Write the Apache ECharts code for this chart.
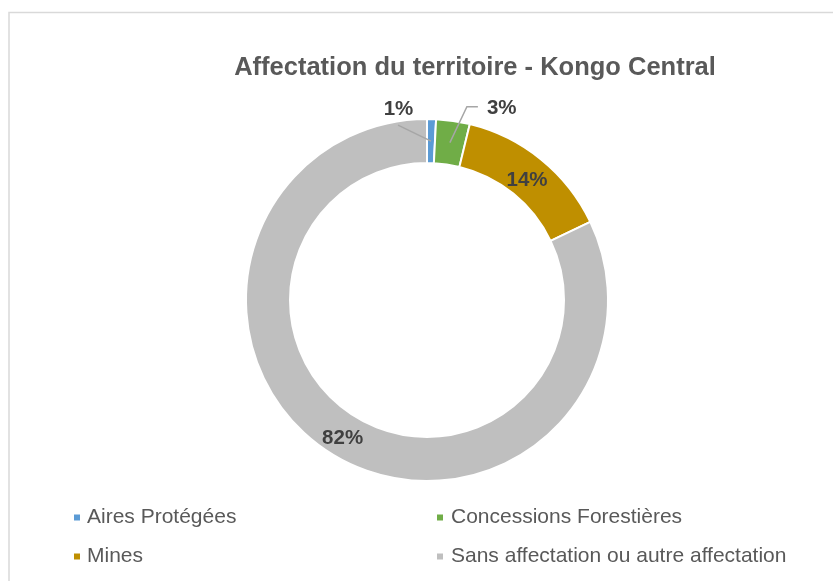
<!DOCTYPE html>
<html>
<head>
<meta charset="utf-8">
<script src="https://cdn.jsdelivr.net/npm/echarts@6/dist/echarts.min.js"></script>
<style>html,body{margin:0;padding:0;background:#fff}#c{width:833px;height:581px}</style>
</head>
<body>
<div id="c"></div>
<script>
const categories = ['Aires Protégées', 'Concessions Forestières', 'Mines', 'Sans affectation ou autre affectation'];
const values = [0.8, 3.0, 14.1, 82.1];
const colors = ['#5B9BD5', '#70AD47', '#BF8F00', '#BFBFBF'];
const titleText = 'Affectation du territoire - Kongo Central';

const CX = 427, CY = 300, R0 = 137, R1 = 181;
const FONT = 'Liberation Sans, Arial, sans-serif';
const total = values.reduce((a, b) => a + b, 0);
function anchorOf(i) {
  let before = 0;
  for (let k = 0; k < i; k++) before += values[k];
  const frac = (before + values[i] / 2) / total;
  const a = frac * 2 * Math.PI;
  const rm = (R0 + R1) / 2;
  return [CX + rm * Math.sin(a), CY - rm * Math.cos(a)];
}

const chart = echarts.init(document.getElementById('c'), null, {renderer: 'canvas'});

// base ring with inside labels
const baseData = categories.map((name, i) => ({
  name: name,
  value: values[i],
  itemStyle: {color: colors[i]},
  label: {show: i >= 2, position: 'inside'},
  labelLine: {show: false}
}));
// transparent overlay ring carrying the outside labels and their leader lines (drawn above the sectors)
const overlayData = categories.map((name, i) => ({
  name: name,
  value: values[i],
  itemStyle: {color: 'rgba(0,0,0,0)', borderWidth: 0},
  label: {show: i < 2, position: 'outside'},
  labelLine: {show: i < 2}
}));

const labelStyle = {
  formatter: p => Math.round(p.percent) + '%',
  fontFamily: FONT,
  fontSize: 20.5,
  fontWeight: 'bold',
  color: '#404040'
};

function legendCol(idx, left, padLeft) {
  return {
    data: idx.map(i => ({name: categories[i], itemStyle: {color: colors[i], borderWidth: 0}})),
    orient: 'vertical',
    left: left,
    top: 507,
    padding: 0,
    itemGap: 18,
    itemWidth: 6,
    itemHeight: 6,
    icon: 'rect',
    selectedMode: false,
    itemStyle: {borderWidth: 0},
    textStyle: {fontFamily: FONT, fontSize: 21, lineHeight: 21, color: '#595959', padding: [0, 0, 0, padLeft]}
  };
}

chart.setOption({
  animation: false,
  graphic: [{
    type: 'rect',
    shape: {x: 9, y: 12.5, width: 900, height: 700},
    style: {fill: 'none', stroke: '#D9D9D9', lineWidth: 1.5},
    silent: true
  }],
  title: {
    text: titleText,
    left: 475,
    textAlign: 'center',
    top: 55,
    padding: 0,
    textStyle: {fontFamily: FONT, fontSize: 25.5, fontWeight: 'bold', color: '#595959'}
  },
  legend: [legendCol([0, 2], 74, 2), legendCol([1, 3], 437, 3)],
  series: [{
    type: 'pie',
    z: 2,
    center: [CX, CY],
    radius: [R0, R1],
    startAngle: 90,
    clockwise: true,
    avoidLabelOverlap: false,
    emphasis: {disabled: true},
    itemStyle: {borderColor: '#FFFFFF', borderWidth: 2},
    label: labelStyle,
    labelLayout: function (params) {
      if (params.dataIndex === 2) return {dx: -2, dy: 6};
      if (params.dataIndex === 3) return {dx: 2, dy: 1};
      return {};
    },
    data: baseData
  }, {
    type: 'pie',
    z: 3,
    silent: true,
    center: [CX, CY],
    radius: [R0, R1],
    startAngle: 90,
    clockwise: true,
    avoidLabelOverlap: false,
    emphasis: {disabled: true},
    label: labelStyle,
    labelLine: {lineStyle: {color: '#A6A6A6', width: 1.5}, length: 10, length2: 10},
    labelLayout: function (params) {
      const i = params.dataIndex;
      if (i === 0) {
        const a = anchorOf(0);
        return {
          x: a[0] - 32.5, y: a[1] - 32, align: 'center', verticalAlign: 'middle',
          labelLinePoints: [[a[0], a[1]], [a[0] - 33, a[1] - 16], [a[0] - 33, a[1] - 16]]
        };
      }
      if (i === 1) {
        const a = anchorOf(1);
        return {
          x: a[0] + 37, y: a[1] - 34, align: 'left', verticalAlign: 'middle',
          labelLinePoints: [[a[0], a[1]], [a[0] + 17, a[1] - 36], [a[0] + 28, a[1] - 36]]
        };
      }
      return {};
    },
    data: overlayData
  }]
});
</script>
</body>
</html>
